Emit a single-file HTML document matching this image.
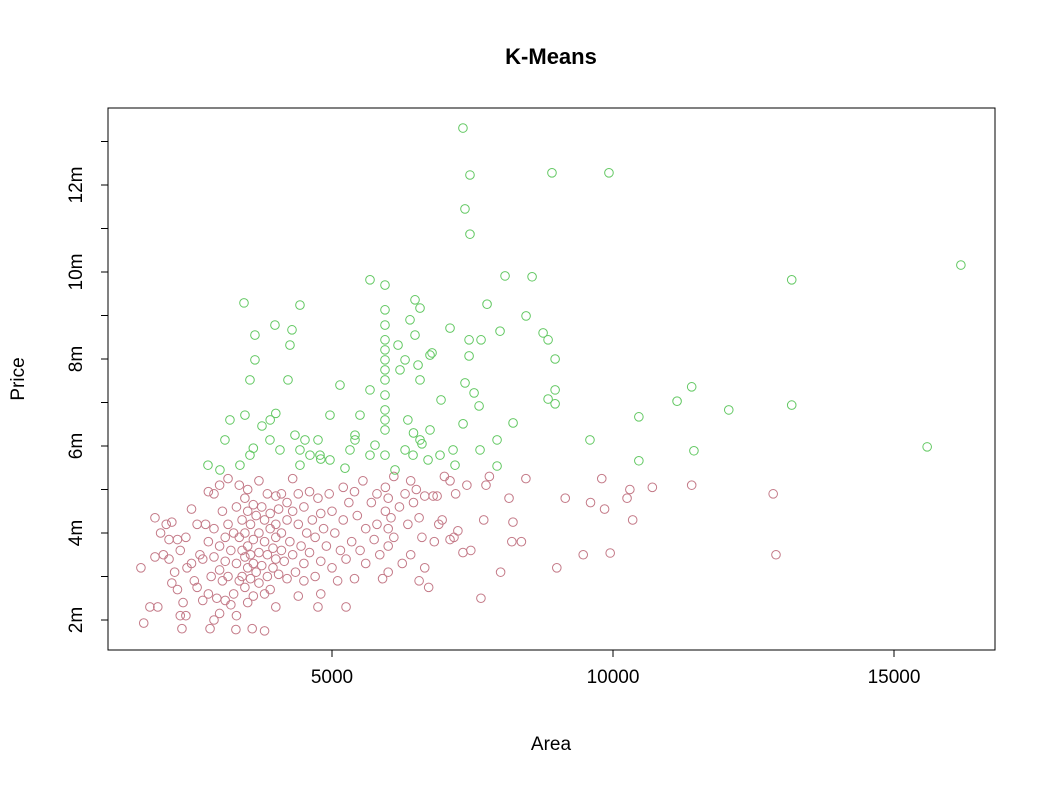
<!DOCTYPE html>
<html><head><meta charset="utf-8"><style>
body{margin:0;background:#fff}
svg{display:block;font-family:"Liberation Sans",Arial,sans-serif}
</style></head><body>
<svg id="chart" width="1051" height="785">
<text x="551" y="64" text-anchor="middle" font-size="22" font-weight="bold">K-Means</text>
<rect x="108" y="108" width="887" height="542" fill="none" stroke="#000" stroke-width="1"/>
<text x="551" y="750" text-anchor="middle" font-size="19">Area</text>
<text transform="translate(24,379) rotate(-90)" text-anchor="middle" font-size="19">Price</text>
<g id="xaxis"></g>
<g id="yaxis"></g>
<g id="points"></g>
</svg>
<script>
const xTicks=[5000,10000,15000];
const yTicks=[2,3,4,5,6,7,8,9,10,11,12,13];
const yLabels=["2m","","4m","","6m","","8m","","10m","","12m",""];
const greenPts=[[7330,13.31],[7455,12.23],[7366,11.45],[7455,10.87],[8914,12.28],[9928,12.28],[16190,10.16],[13180,9.82],[15590,5.98],[13180,6.94],[12060,6.83],[11400,7.36],[11140,7.03],[11440,5.89],[10460,6.67],[10460,5.66],[9590,6.14],[8970,6.97],
[8845,7.08],[8970,7.29],[8970,8.0],[8845,8.44],[8756,8.6],[8453,8.99],[8560,9.89],[8079,9.91],[7990,8.64],[7759,9.26],[7652,8.44],[7439,8.44],[7439,8.07],[7367,7.45],[7528,7.22],[7617,6.92],[8222,6.53],[7937,6.14],[7937,5.54],[7154,5.91],[7332,6.51],[6940,7.06],[6780,8.14],[7100,8.71],[6477,9.36],[6566,9.17],[6388,8.9],[6477,8.55],[6175,8.32],[6210,7.75],[6566,7.52],[6744,8.09],[6300,7.98],[6531,7.86],
[5943,9.7],[5943,9.13],[5943,8.78],[5943,8.44],[5943,8.21],[5943,7.98],[5943,7.75],[5943,7.52],[5943,7.17],[5943,6.83],[5943,6.6],[5943,6.37],[5943,5.79],[5676,9.82],[5676,7.29],[5498,6.71],[5409,6.25],[5142,7.4],[4964,6.71],[4786,5.79],[4430,9.24],[4288,8.67],[4252,8.32],[4217,7.52],[4341,6.25],[4519,6.14],[3985,8.78],[3896,6.14],[3629,8.55],[3629,7.98],[3540,7.52],[3451,6.71],[3540,5.79],[3362,5.56],[3434,9.29],[3184,6.6],[3095,6.14],[3006,5.45],[2793,5.56],[3754,6.46],[4074,5.91],[4430,5.91],[4608,5.79],[4751,6.14],[4964,5.68],[5320,5.91],[5409,6.14],[5765,6.02],[6300,5.91],[6566,6.14],[6744,6.37],[6922,5.79],[7189,5.56],[7634,5.91],[6709,5.68],[6442,5.79],[6121,5.45],[5676,5.79],[5231,5.49],[4430,5.56],[3900,6.6],[4000,6.75],[3600,5.95],[4800,5.7],[6450,6.3],[6600,6.05],[6350,6.6]];
const redPts=[[1600,3.2],[1650,1.93],[1760,2.3],[1850,4.35],[2330,1.8],[2830,1.8],[3290,1.78],[3580,1.8],[3800,1.75],[4750,2.3],[5250,2.3],[7650,2.5],[8000,3.1],[9000,3.2],[9950,3.54],[9470,3.5],[12900,3.5],[12850,4.9],[11400,5.1],[10700,5.05],[10300,5.0],[10250,4.8],[10350,4.3],[9800,5.25],[9850,4.55],[9600,4.7],[9150,4.8],[8450,5.25],[8370,3.8],[8200,3.8],[8220,4.25],[8150,4.8],[7800,5.3],[7700,4.3],[7740,5.1],[7470,3.6],[7330,3.55],[7240,4.05],[7170,3.9],[7100,5.2],[6870,4.85],[6960,4.3],[6820,3.8],[6720,2.75],[6650,3.2],[6550,2.9],
[2000,3.5],[2050,4.2],[2100,3.4],[2100,3.85],[2150,4.25],[2200,3.1],[2250,2.7],[2300,2.1],[2300,3.6],[2350,2.4],[2400,3.9],[2420,3.2],[2500,4.55],[2500,3.3],[2550,2.9],[2600,4.2],[2600,2.75],[2650,3.5],[2700,3.4],[2700,2.45],[2750,4.2],[2800,4.95],[2800,3.8],[2800,2.6],[2850,3.0],[2900,4.9],[2900,4.1],[2900,3.45],[2900,2.0],[2950,2.5],[3000,5.1],[3000,3.7],[3000,3.15],[3000,2.15],[3050,4.5],[3050,2.9],[3100,3.9],[3100,3.35],[3100,2.45],[3150,5.25],[3150,4.2],[3150,3.0],[3200,3.6],[3200,2.35],[3250,4.0],[3250,2.6],[3300,4.6],[3300,3.3],[3300,2.1],[3350,5.1],[3350,3.9],[3350,2.9],[3400,4.3],[3400,3.6],[3400,3.0],[3450,4.8],[3450,4.0],[3450,3.45],[3450,2.75],[3500,5.0],[3500,4.5],[3500,3.7],[3500,3.2],[3500,2.4],[3550,4.2],[3550,3.5],[3550,2.95],[3600,4.65],[3600,3.85],[3600,3.3],[3600,2.55],[3650,4.4],[3650,3.1],[3700,5.2],[3700,4.0],[3700,3.55],[3700,2.85],[3750,4.6],[3750,3.25],[3800,4.3],[3800,3.8],[3800,2.6],[3850,4.9],[3850,3.5],[3850,3.0],[3900,4.45],[3900,4.1],[3900,2.7],[3950,3.65],[3950,3.2],[4000,4.85],[4000,4.2],[4000,3.9],[4000,3.4],[4000,2.3],[4050,4.55],[4050,3.05],[4100,4.9],[4100,4.0],[4100,3.6],[4150,3.35],[4200,4.7],[4200,4.3],[4200,2.95],[4250,3.8],[4300,5.25],[4300,4.5],[4300,3.5],[4350,3.1],[4400,4.9],[4400,4.2],[4400,2.55],[4450,3.7],[4500,4.6],[4500,3.3],[4500,2.9],[4550,4.0],[4600,4.95],[4600,3.55],[4650,4.3],[4700,3.9],[4700,3.0],[4750,4.8],[4800,4.45],[4800,3.35],[4800,2.6],[4850,4.1],[4900,3.7],[4950,4.9],[5000,4.5],[5000,3.2],[5050,4.0],[5100,2.9],[5150,3.6],[5200,5.05],[5200,4.3],[5250,3.4],[5300,4.7],[5350,3.8],[5400,4.95],[5400,2.95],[5450,4.4],[5500,3.6],[5550,5.2],[5600,4.1],[5600,3.3],[5700,4.7],[5750,3.85],[5800,4.9],[5800,4.2],[5850,3.5],[5900,2.95],[5950,5.05],[5950,4.5],[6000,4.8],[6000,4.1],[6000,3.7],[6000,3.1],[6050,4.35],[6100,5.3],[6100,3.9],[6200,4.6],[6250,3.3],[6300,4.9],[6350,4.2],[6400,5.2],[6400,3.5],[6450,4.7],[6500,5.0],[6550,4.35],[6600,3.9],[6650,4.85],[6800,4.85],[6900,4.2],[7000,5.3],[7100,3.85],[7200,4.9],[7400,5.1],[1850,3.45],[1900,2.3],[1950,4.0],[2150,2.85],[2250,3.85],[2400,2.1]];

const NS="http://www.w3.org/2000/svg";
function xScale(v){return 332+(v-5000)*281/5000;}
function yScale(v){return 620-(v-2)*43.5;}
function mk(tag,attrs,parent){const e=document.createElementNS(NS,tag);for(const k in attrs)e.setAttribute(k,attrs[k]);parent.appendChild(e);return e;}
const xa=document.getElementById('xaxis'),ya=document.getElementById('yaxis'),pg=document.getElementById('points');
mk('line',{x1:xScale(xTicks[0]),x2:xScale(xTicks[xTicks.length-1]),y1:650,y2:650,stroke:'#000'},xa);
xTicks.forEach(t=>{
  const l=mk('line',{x1:xScale(t),x2:xScale(t),y1:650,y2:657,stroke:'#000'},xa);
  
  
  const tx=mk('text',{x:xScale(t),y:683,'text-anchor':'middle','font-size':19},xa);
  tx.textContent=t;
  
  
});
mk('line',{x1:108,x2:108,y1:yScale(yTicks[0]),y2:yScale(yTicks[yTicks.length-1]),stroke:'#000'},ya);
yTicks.forEach((t,i)=>{
  const l=mk('line',{x1:101,x2:108,y1:yScale(t),y2:yScale(t),stroke:'#000'},ya);
  
  
  if(yLabels[i]){
    const tx=mk('text',{transform:`translate(82,${yScale(t)}) rotate(-90)`,'text-anchor':'middle','font-size':19},ya);
    tx.textContent=yLabels[i];
    
    
  }
});
function drawPts(arr,col,name){
  arr.forEach(p=>{
    const c=mk('circle',{cx:xScale(p[0]),cy:yScale(p[1]),r:4.3,fill:'none',stroke:col,'stroke-width':1},pg);
    
    
  });
}
drawPts(redPts,'#c47a88','cluster-1-point');
drawPts(greenPts,'#62c862','cluster-2-point');
</script>
</body></html>
